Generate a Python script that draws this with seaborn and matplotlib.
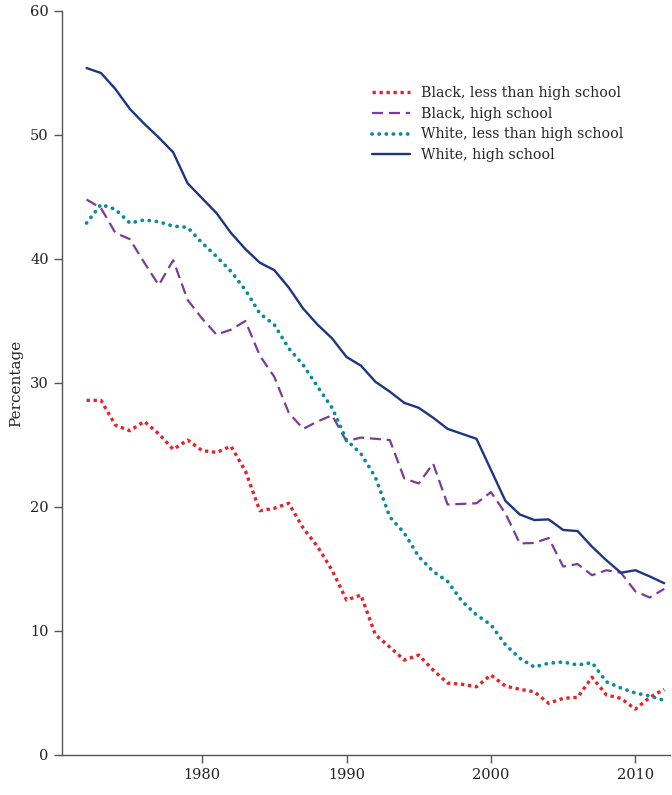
import numpy as np
import pandas as pd
import matplotlib
matplotlib.use("Agg")
import matplotlib.pyplot as plt
import seaborn as sns

years = list(range(1972, 2013))

black_less_hs = [28.6, 28.6, 26.6, 26.15, 26.9, 25.9, 24.65, 25.4, 24.55, 24.4,
                 24.9, 22.9, 19.7, 19.9, 20.3, 18.3, 16.8, 14.9, 12.5, 12.9,
                 9.7, 8.7, 7.66, 8.06, 6.85, 5.8, 5.7, 5.5, 6.45, 5.56,
                 5.3, 5.1, 4.17, 4.57, 4.65, 6.27, 4.84, 4.57, 3.7, 4.65, 5.3]

black_hs = [44.8, 44.1, 42.1, 41.6, 39.7, 37.9, 39.9, 36.7, 35.2, 33.9,
            34.3, 35.0, 32.2, 30.5, 27.6, 26.3, 26.9, 27.4, 25.3, 25.6,
            25.5, 25.4, 22.3, 21.9, 23.5, 20.2, 20.25, 20.3, 21.2, 19.5,
            17.06, 17.1, 17.5, 15.2, 15.4, 14.5, 14.9, 14.7, 13.2, 12.7, 13.4]

white_less_hs = [42.9, 44.4, 44.0, 42.9, 43.15, 43.0, 42.65, 42.55, 41.3, 40.2,
                 39.0, 37.5, 35.6, 34.7, 32.8, 31.45, 29.7, 28.0, 25.4, 24.3,
                 22.4, 19.2, 17.9, 16.0, 14.8, 14.0, 12.4, 11.3, 10.5, 8.9,
                 7.8, 7.1, 7.4, 7.5, 7.26, 7.45, 5.9, 5.4, 5.0, 4.76, 4.4]

white_hs = [55.4, 55.0, 53.7, 52.1, 50.9, 49.8, 48.6, 46.1, 44.9, 43.7,
            42.1, 40.8, 39.7, 39.1, 37.7, 36.0, 34.7, 33.6, 32.1, 31.4,
            30.1, 29.3, 28.4, 28.0, 27.2, 26.3, 25.9, 25.5, 23.0, 20.5,
            19.4, 18.95, 19.0, 18.15, 18.06, 16.8, 15.7, 14.7, 14.9, 14.4, 13.85]

labels = ["Black, less than high school", "Black, high school",
          "White, less than high school", "White, high school"]
x_ticks = [1980, 1990, 2000, 2010]
y_ticks = [0, 10, 20, 30, 40, 50, 60]

sns.set_style("ticks")
plt.rcParams['font.family'] = ['DejaVu Serif']

fig = plt.figure(figsize=(6.72, 7.95), dpi=100)
ax = fig.add_axes([62/672, 40/795, (670-62)/672, (755-11)/795])

series = [black_less_hs, black_hs, white_less_hs, white_hs]
colors = ["#E8212B", "#7E3A9B", "#0B8C9E", "#1E3583"]
styles = [dict(linewidth=2.4, linestyle=(0, (1, 1.1)), dash_capstyle='butt'),
          dict(linewidth=1.6, linestyle=(0, (5, 2.6))),
          dict(linewidth=2.7, linestyle=(0, (0.05, 1.85)), dash_capstyle='round'),
          dict(linewidth=1.7, linestyle='-')]

for vals, lab, col, st in zip(series, labels, colors, styles):
    df = pd.DataFrame({"year": years, "value": vals})
    sns.lineplot(data=df, x="year", y="value", ax=ax, color=col, label=lab, **st)

ax.set_xlim(1970.3, 2012.4)
ax.set_ylim(0, 60)
ax.set_xticks(x_ticks)
ax.set_yticks(y_ticks)
ax.set_xticklabels([str(t) for t in x_ticks])
ax.set_yticklabels([str(t) for t in y_ticks])
ax.set_xlabel("")
ax.set_ylabel("Percentage", fontsize=11, labelpad=5)
sns.despine(ax=ax)
for s in ["left", "bottom"]:
    ax.spines[s].set_color("#555555")
    ax.spines[s].set_linewidth(1.0)
ax.tick_params(axis='both', direction='out', length=6, width=1.0, color="#555555",
               labelsize=10.5, labelcolor="#222222")

leg = ax.legend(loc='upper left', bbox_to_anchor=(0.50, 0.907), frameon=False,
                fontsize=10.2, handlelength=2.7, handletextpad=0.8, labelspacing=0.48,
                borderaxespad=0)

fig.savefig("out.png", dpi=100)
